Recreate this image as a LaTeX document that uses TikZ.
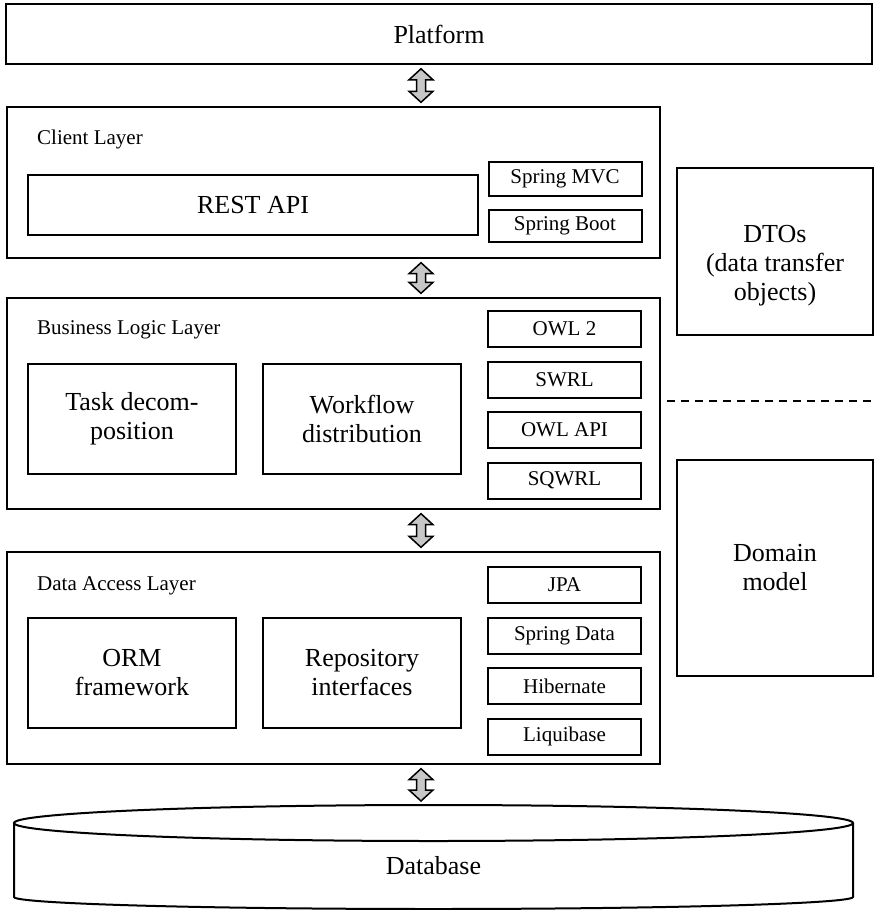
\documentclass[tikz,border=0pt]{standalone}
\usepackage{fontspec}
\setmainfont{Liberation Serif}
\usetikzlibrary{calc,positioning}

\newcommand\bigfont{\fontsize{26}{29}\selectfont}
\newcommand\smallfont{\fontsize{21}{24}\selectfont}

% fat two-headed arrow from one anchor down to another
\newcommand\layerlink[2]{%
  \draw[linkarrow] let \p1=(#1), \p2=(#2) in
    (421pt,\y1-4pt) -- ++(12pt,-11pt) -- ++(-7.5pt,0pt) -- (425.5pt,\y2+15pt)
    -- ++(7.5pt,0pt) -- (421pt,\y2+4pt) -- ++(-12pt,11pt) -- ++(7.5pt,0pt)
    -- (416.5pt,\y1-15pt) -- ++(-7.5pt,0pt) -- cycle;}

\begin{document}
\begin{tikzpicture}[x=1pt,y=-1pt,node distance=12.5pt,
  layer/.style={draw, line width=1.4pt, minimum width=653, inner sep=0pt},
  block/.style={draw, line width=2pt, font=\bigfont, align=center, inner sep=0pt},
  tool/.style={draw, line width=2pt, font=\smallfont, minimum width=153,
               minimum height=36, inner sep=0pt},
  caption/.style={font=\smallfont, anchor=west, inner sep=0pt},
  sidetext/.style={label={[font=\bigfont, align=center, yshift=-14pt]center:#1}},
  linkarrow/.style={draw, line width=1.5pt, fill=black!22, line join=miter}]

  \useasboundingbox (0,0) rectangle (877,910);

  \node[block, minimum width=866, minimum height=60, line width=1.6pt] (platform) at (439,34) {Platform};

  % client layer
  \node[layer, minimum height=151] (client) at (333.5,182.5) {};
  \node[caption] (clientcap) at (37,139) {Client Layer};
  \node[block, minimum width=450, minimum height=60] (rest) at (253,205) {REST API};
  \node[tool, minimum height=34] (mvc) at (565,179) {Spring MVC};
  \node[tool, minimum height=32, below=12pt of mvc] (boot) {Spring Boot};

  % business logic layer
  \node[layer, minimum height=211] (business) at (333.5,403.5) {};
  \node[caption] (businesscap) at (37,330) {Business Logic Layer};
  \node[block, minimum width=208, minimum height=110] (task) at (132,419) {Task decom-\\position};
  \node[block, minimum width=198, minimum height=110] (workflow) at (362,419) {Workflow\\distribution};
  \node[tool] (owl) at (564.5,329) {OWL 2};
  \node[tool, below=of owl] (swrl) {SWRL};
  \node[tool, below=of swrl] (owlapi) {OWL API};
  \node[tool, below=of owlapi] (sqwrl) {SQWRL};

  % data access layer
  \node[layer, minimum height=212] (data) at (333.5,658) {};
  \node[caption] (datacap) at (37,586) {Data Access Layer};
  \node[block, minimum width=208, minimum height=110] (orm) at (132,673) {ORM\\framework};
  \node[block, minimum width=198, minimum height=110] (repo) at (362,673) {Repository\\interfaces};
  \node[tool] (jpa) at (564.5,585) {JPA};
  \node[tool, below=of jpa] (springdata) {Spring Data};
  \node[tool, below=of springdata] (hibernate) {Hibernate};
  \node[tool, below=of hibernate] (liquibase) {Liquibase};

  % objects passed between the layers
  \node[block, minimum width=196, minimum height=167,
        sidetext={DTOs\\(data transfer\\objects)}] (dto) at (775,251.5) {};
  \draw[line width=1.4pt, dash pattern=on 8pt off 6pt] (667,401) -- (875,401);
  \node[block, minimum width=196, minimum height=216] (domain) at (775,568) {Domain\\model};

  % database
  \coordinate (dbtop) at (433.5,805);
  \draw[line width=2pt] (433.5,823) ellipse [x radius=419.5pt, y radius=18pt];
  \draw[line width=2pt] (14,823) -- (14,897)
    arc[start angle=180, end angle=360, x radius=419.5pt, y radius=12pt] -- (853,823);
  \node[font=\bigfont] (database) at (433.5,866) {Database};

  \layerlink{platform.south}{client.north}
  \layerlink{client.south}{business.north}
  \layerlink{business.south}{data.north}
  \layerlink{data.south}{dbtop}
\end{tikzpicture}
\end{document}
